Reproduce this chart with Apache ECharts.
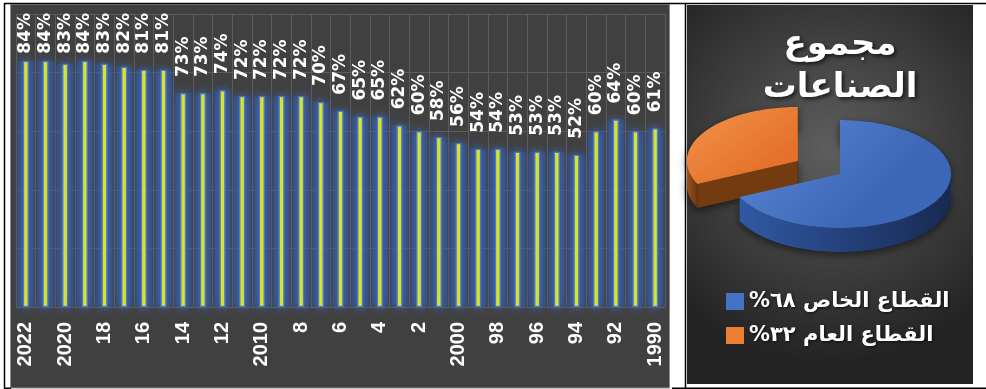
<!DOCTYPE html>
<html>
<head>
<meta charset="utf-8">
<script src="https://cdn.jsdelivr.net/npm/echarts@6/dist/echarts.min.js"></script>
<style>
  html, body { margin: 0; padding: 0; background: #ffffff; }
  #chart { width: 986px; height: 389px; }
</style>
</head>
<body>
<div id="chart"></div>
<script>
// Years as printed under the bars (every other one is shown)
const years = ['2022','21','2020','19','18','17','16','15','14','13','12','11','2010','9','8','7',
               '6','5','4','3','2','1','2000','99','98','97','96','95','94','93','92','91','1990'];
// Private-sector share per year, percent
const privateShare = [84,84,83,84,83,82,81,81,73,73,74,72,72,72,72,70,
                      67,65,65,62,60,58,56,54,54,53,53,53,52,60,64,60,61];

// Pie: all industries, by sector
const pieTitle = 'مجموع\nالصناعات';
const sectorNames = ['القطاع الخاص', 'القطاع العام'];
const sectorValues = [68, 32];

// ---- styling ----
const sectorStyle = [
  { top: ['#5d89d6', '#3c66b6'], side: ['#3059a3', '#182952'], face: '#22417c', legend: '#4472c4' },
  { top: ['#f2944c', '#e5712a'], side: ['#9a521b', '#6c3710'], face: '#733b10', legend: '#ed7d31' }
];
const PIE = { cx: 840, cy: 174, rx: 111, ry: 54, depth: 24, explode: [0, 0.45] };
const GRID = { left: 16, top: 14, width: 649, height: 293 };
const LABEL_FONT = 'bold 17px "DejaVu Sans"';
const LABEL_GAP = 16;

const arabicDigits = s => String(s).replace(/[0-9]/g, d => '٠١٢٣٤٥٦٧٨٩'[d]);
const total = sectorValues.reduce((a, b) => a + b, 0);

function linear(c0, c1, horizontal) {
  return { type: 'linear', x: 0, y: 0, x2: horizontal ? 1 : 0.5, y2: horizontal ? 0 : 1,
           colorStops: [{ offset: 0, color: c0 }, { offset: 1, color: c1 }] };
}

// Draws one sector of a tilted, extruded pie from the sector values
function sliceRenderer(k) {
  return function () {
    let start = 0;
    for (let i = 0; i < k; i++) start += sectorValues[i] / total * 360;
    const end = start + sectorValues[k] / total * 360;
    const mid = (start + end) / 2 * Math.PI / 180;
    const ex = PIE.explode[k] * PIE.rx;
    const cx = PIE.cx + ex * Math.sin(mid);
    const cy = PIE.cy - ex * Math.cos(mid) * PIE.ry / PIE.rx;
    const d = PIE.depth;
    const pt = (deg, dz) => {
      const r = deg * Math.PI / 180;
      return [cx + PIE.rx * Math.sin(r), cy - PIE.ry * Math.cos(r) + dz];
    };
    const arc = (a, b, dz) => {
      const n = Math.max(2, Math.ceil((b - a) / 2));
      const pts = [];
      for (let i = 0; i <= n; i++) pts.push(pt(a + (b - a) * i / n, dz));
      return pts;
    };
    const st = sectorStyle[k];
    const children = [];
    // silhouette carrying the drop shadow
    children.push({
      type: 'polygon',
      shape: { points: [[cx, cy]].concat(arc(start, end, 0)).concat(arc(start, end, d).reverse()).concat([[cx, cy + d]]) },
      style: { fill: '#202020', shadowColor: 'rgba(0,0,0,0.55)', shadowBlur: 8, shadowOffsetX: 0, shadowOffsetY: 3 }
    });
    const radialFace = ang => ({
      type: 'polygon',
      shape: { points: [[cx, cy], pt(ang, 0), pt(ang, d), [cx, cy + d]] },
      style: { fill: st.face }
    });
    if (Math.sin(start * Math.PI / 180) < -1e-6) children.push(radialFace(start));
    if (Math.sin(end * Math.PI / 180) > 1e-6) children.push(radialFace(end));
    const a = Math.max(start, 90), b = Math.min(end, 270);
    if (b > a) {
      children.push({
        type: 'polygon',
        shape: { points: arc(a, b, 0).concat(arc(a, b, d).reverse()) },
        style: { fill: linear(st.side[0], st.side[1], true) }
      });
    }
    children.push({
      type: 'polygon',
      shape: { points: [[cx, cy]].concat(arc(start, end, 0)) },
      style: { fill: linear(st.top[0], st.top[1], false) }
    });
    return { type: 'group', children };
  };
}

const chart = echarts.init(document.getElementById('chart'), null, { renderer: 'canvas' });

const pieSeries = sectorNames.map((name, k) => ({
  type: 'custom',
  name: name,
  coordinateSystem: 'none',
  renderItem: sliceRenderer(k),
  data: [sectorValues[k]],
  itemStyle: { color: sectorStyle[k].legend },
  silent: true,
  animation: false,
  z: 5 + (sectorNames.length - k)
})).reverse();

const option = {
  animation: false,
  backgroundColor: '#ffffff',
  graphic: [
    { type: 'rect', z: -100, shape: { x: 10.5, y: 4.5, width: 659, height: 383.5 },
      style: { fill: '#404040', stroke: '#8a8a8a', lineWidth: 1 } },
    { type: 'rect', z: -100, shape: { x: 687, y: 5, width: 286, height: 379 },
      style: { fill: { type: 'radial', x: 0.5, y: 0.38, r: 0.75,
        colorStops: [{ offset: 0, color: '#5e5e5e' }, { offset: 1, color: '#232323' }] } } },
    { type: 'line', z: -90, shape: { x1: 4, y1: 3.5, x2: 986, y2: 3.5 }, style: { stroke: '#000', lineWidth: 1.5 } },
    { type: 'line', z: -90, shape: { x1: 4.5, y1: 3, x2: 4.5, y2: 389 }, style: { stroke: '#000', lineWidth: 1.5 } },
    { type: 'line', z: -90, shape: { x1: 685.5, y1: 3, x2: 685.5, y2: 389 }, style: { stroke: '#000', lineWidth: 1.5 } },
    { type: 'line', z: -90, shape: { x1: 672, y1: 388.2, x2: 986, y2: 388.2 }, style: { stroke: '#000', lineWidth: 1.5 } },
    { type: 'line', z: -90, shape: { x1: 4, y1: 388.2, x2: 11, y2: 388.2 }, style: { stroke: '#000', lineWidth: 1.5 } }
  ],
  title: {
    text: pieTitle,
    left: 840,
    top: 24,
    textAlign: 'center',
    padding: 0,
    textStyle: {
      color: '#ffffff', fontFamily: 'DejaVu Sans', fontWeight: 'bold', fontSize: 34, lineHeight: 43,
      textShadowColor: 'rgba(0,0,0,0.7)', textShadowBlur: 4, textShadowOffsetX: 2, textShadowOffsetY: 2
    }
  },
  legend: {
    data: sectorNames,
    orient: 'vertical',
    left: 721,
    top: 286,
    itemWidth: 18,
    itemHeight: 17,
    itemGap: 13,
    textGap: 8,
    icon: 'rect',
    selectedMode: false,
    formatter: name => name + ' ' + arabicDigits(sectorValues[sectorNames.indexOf(name)]) + '%\u200F',
    textStyle: {
      color: '#ffffff', fontFamily: 'DejaVu Sans', fontWeight: 'bold', fontSize: 21,
      textShadowColor: 'rgba(0,0,0,0.7)', textShadowBlur: 3, textShadowOffsetX: 1, textShadowOffsetY: 1
    }
  },
  grid: { left: GRID.left, top: GRID.top, width: GRID.width, height: GRID.height, containLabel: false },
  xAxis: [{
    type: 'category',
    data: years,
    axisLine: { show: false },
    axisTick: { show: false },
    splitLine: { show: true, interval: 0, lineStyle: { color: '#5c5c5c', width: 1 } },
    axisLabel: {
      interval: 1, rotate: 90, margin: 15, color: '#ffffff',
      fontFamily: 'Liberation Sans', fontWeight: 'bold', fontSize: 20
    }
  }, {
    // twin of the year axis, carrying the glow layer
    type: 'category',
    data: years,
    show: false
  }],
  yAxis: {
    type: 'value', min: 0, max: 100, interval: 20,
    axisLabel: { show: false }, axisLine: { show: false }, axisTick: { show: false },
    splitLine: { show: true, lineStyle: { color: '#5c5c5c', width: 1 } }
  },
  series: [{
    type: 'bar',
    data: privateShare,
    barWidth: 6,
    itemStyle: {
      color: '#ffff00', borderColor: '#4a7ad0', borderWidth: 1.3,
      shadowBlur: 8, shadowColor: 'rgba(68,114,196,0.95)'
    },
    label: {
      show: true, position: 'top', rotate: 90, align: 'left', verticalAlign: 'middle',
      distance: LABEL_GAP, formatter: '{c}%', color: '#ffffff',
      fontFamily: 'DejaVu Sans', fontWeight: 'bold', fontSize: 17
    },
    z: 4
  }, {
    // soft blue glow spread behind each bar
    type: 'bar',
    xAxisIndex: 1,
    data: privateShare,
    barWidth: 16,
    silent: true,
    itemStyle: {
      color: 'rgba(50,82,150,0.5)',
      shadowBlur: 8, shadowColor: 'rgba(50,82,150,0.7)'
    },
    z: 3
  }].concat(pieSeries)
};

chart.setOption(option);

// Keep the rotated value labels inside the plot: pull them closer to tall bars
const measure = document.createElement('canvas').getContext('2d');
measure.font = LABEL_FONT;
const labelled = privateShare.map((v, i) => {
  const barTop = chart.convertToPixel({ seriesIndex: 0 }, [i, v])[1];
  const len = measure.measureText(v + '%').width;
  const dist = Math.max(3, Math.min(LABEL_GAP, barTop - (GRID.top - 1) - len));
  return { value: v, label: { distance: dist } };
});
chart.setOption({ series: [{ data: labelled }] });
</script>
</body>
</html>
